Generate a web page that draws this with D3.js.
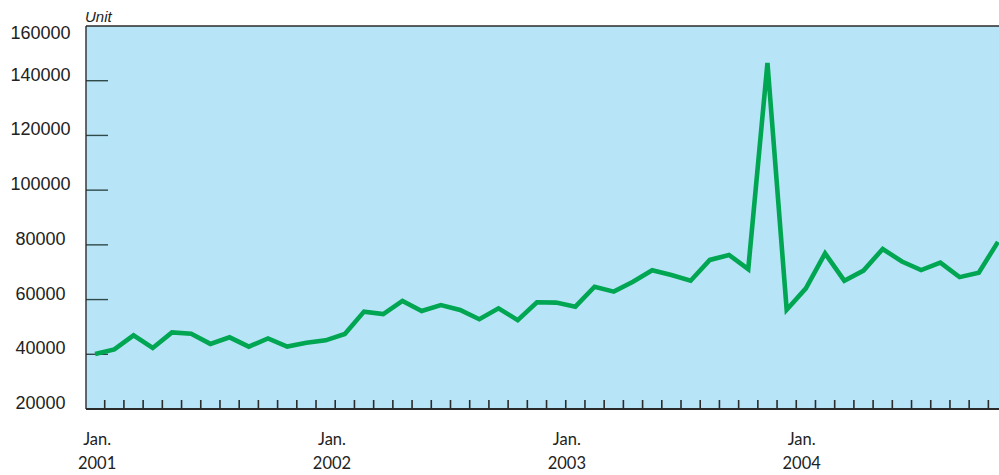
<!DOCTYPE html>
<html>
<head>
<meta charset="utf-8">
<script src="https://cdn.jsdelivr.net/npm/d3@7"></script>
<style>
  html, body { margin: 0; padding: 0; background: #ffffff; }
  svg { display: block; }
</style>
</head>
<body>
<svg id="chart" width="999" height="475"></svg>
<script>
// Monthly values, January 2001 through December 2004
const months = d3.range(48);
const values = [
  40100, 41800, 46900, 42300, 48000, 47500, 43800, 46200, 42800, 45800, 42800, 44200,
  45100, 47400, 55600, 54700, 59500, 55800, 58000, 56200, 52800, 56800, 52500, 59000,
  58900, 57400, 64700, 62900, 66500, 70700, 69000, 66900, 74500, 76300, 71100, 146500,
  56300, 64100, 76900, 66900, 70600, 78500, 73900, 70800, 73500, 68200, 69800, 81100
];
const yTicks = [20000, 40000, 60000, 80000, 100000, 120000, 140000, 160000];
const yearLabels = [
  { month: 0, line1: "Jan.", line2: "2001" },
  { month: 12, line1: "Jan.", line2: "2002" },
  { month: 24, line1: "Jan.", line2: "2003" },
  { month: 36, line1: "Jan.", line2: "2004" }
];
const unitLabel = "Unit";

const svg = d3.select("#chart");
const W = 999;
const plotLeft = 86, plotTop = 26, plotBottom = 409;
const step = 19.21;

const x = d3.scaleBand()
  .domain(months)
  .range([plotLeft - 0.5, plotLeft - 0.5 + step * months.length])
  .paddingInner(0).paddingOuter(0);

const y = d3.scaleLinear()
  .domain([20000, 160000])
  .range([plotBottom, plotTop]);

const axisColor = "#2b2b2b";

// plot background
svg.append("rect")
  .attr("x", plotLeft)
  .attr("y", plotTop)
  .attr("width", W - plotLeft)
  .attr("height", plotBottom - plotTop)
  .attr("fill", "#b8e4f8");

// horizontal value ticks drawn inward from the left axis
svg.append("g")
  .selectAll("line")
  .data(yTicks.filter(v => v > 20000 && v < 160000))
  .join("line")
  .attr("x1", plotLeft)
  .attr("x2", plotLeft + 22)
  .attr("y1", d => y(d))
  .attr("y2", d => y(d))
  .attr("stroke", "#2f4a48")
  .attr("stroke-width", 1.4);

// monthly ticks on the time axis, at the month boundaries
svg.append("g")
  .selectAll("line")
  .data(months.slice(1))
  .join("line")
  .attr("x1", d => x(d))
  .attr("x2", d => x(d))
  .attr("y1", plotBottom)
  .attr("y2", plotBottom - 9)
  .attr("stroke", axisColor)
  .attr("stroke-width", 1.6);

// data line
const line = d3.line()
  .x((d, i) => x(months[i]) + x.bandwidth() / 2)
  .y(d => y(d));

svg.append("path")
  .datum(values)
  .attr("d", line)
  .attr("fill", "none")
  .attr("stroke", "#00a651")
  .attr("stroke-width", 4.6)
  .attr("stroke-linejoin", "miter")
  .attr("stroke-miterlimit", 4);

// frame: top border, left axis, bottom axis
svg.append("line")
  .attr("x1", plotLeft).attr("x2", W)
  .attr("y1", plotTop).attr("y2", plotTop)
  .attr("stroke", axisColor).attr("stroke-width", 1.6);
svg.append("line")
  .attr("x1", plotLeft).attr("x2", plotLeft)
  .attr("y1", plotTop).attr("y2", plotBottom)
  .attr("stroke", axisColor).attr("stroke-width", 1.4);
svg.append("line")
  .attr("x1", plotLeft).attr("x2", W)
  .attr("y1", plotBottom).attr("y2", plotBottom)
  .attr("stroke", axisColor).attr("stroke-width", 1.8);

// value labels
svg.append("g")
  .selectAll("text")
  .data(yTicks)
  .join("text")
  .attr("x", 40.5)
  .attr("y", d => Math.max(y(d), plotTop + 13))
  .attr("text-anchor", "middle")
  .attr("font-family", "'Liberation Sans', Arial, sans-serif")
  .attr("font-size", 18)
  .attr("fill", "#222")
  .text(d => d);

// unit caption
svg.append("text")
  .attr("x", plotLeft - 1)
  .attr("y", 22)
  .attr("font-family", "'Liberation Sans', Arial, sans-serif")
  .attr("font-style", "italic")
  .attr("font-size", 15)
  .attr("fill", "#222")
  .text(unitLabel);

// year labels below the time axis
const labelX = d3.scaleLinear()
  .domain([0, 36])
  .range([x(0) + x.bandwidth() / 2 + 2, x(36) + x.bandwidth() / 2 + 15]);

const yl = svg.append("g")
  .selectAll("g")
  .data(yearLabels)
  .join("g")
  .attr("transform", d => `translate(${labelX(d.month)},0)`);

yl.append("text")
  .attr("y", 445)
  .attr("text-anchor", "middle")
  .attr("font-family", "Lato, 'Open Sans', sans-serif")
  .attr("font-size", 16.5)
  .attr("fill", "#222")
  .text(d => d.line1);

yl.append("text")
  .attr("y", 469)
  .attr("text-anchor", "middle")
  .attr("font-family", "Lato, 'Open Sans', sans-serif")
  .attr("font-size", 16.5)
  .attr("fill", "#222")
  .text(d => d.line2);
</script>
</body>
</html>
